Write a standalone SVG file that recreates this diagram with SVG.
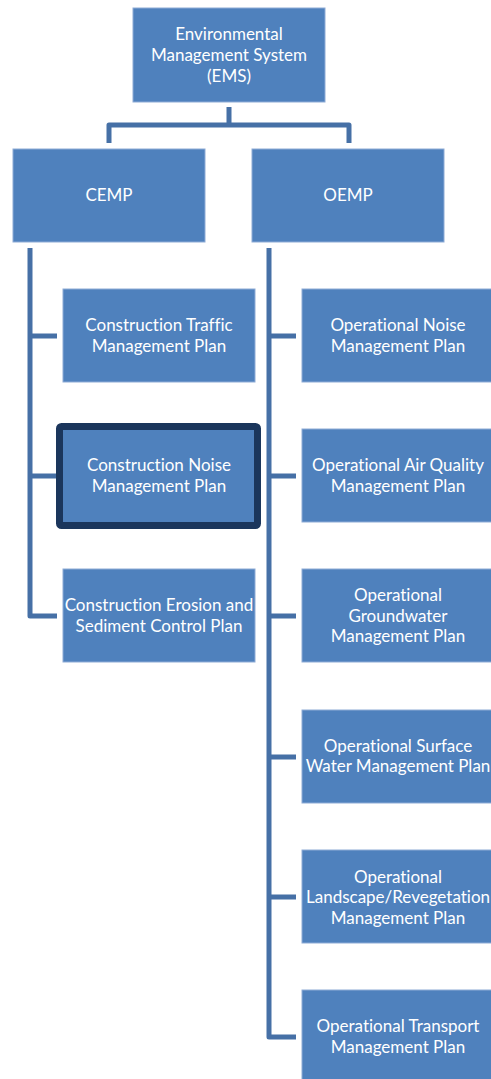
<svg xmlns="http://www.w3.org/2000/svg" width="491" height="1079" viewBox="0 0 491 1079">
<style>
.box{fill:#4F81BD;stroke:#8eabd6;stroke-width:1}
.hl{fill:#4F81BD;stroke:#1b365c;stroke-width:7}
.t{font-family:Lato,"Open Sans",sans-serif;font-size:17px;fill:#ffffff;text-anchor:middle;font-variant-ligatures:none;font-feature-settings:"liga" 0,"dlig" 0}
.c{fill:none;stroke:#4670a6;stroke-width:5;stroke-linejoin:round}
</style>
<rect width="491" height="1079" fill="#ffffff"/>
<g id="connectors">
<path class="c" d="M229 107 V125 M109 143 V125 H349 V143"/>
<path class="c" d="M30 248 V616 H57 M30 336 H57 M30 476 H57"/>
<path class="c" d="M269 248 V1037 H296 M269 336 H296 M269 476 H296 M269 616 H296 M269 757 H296 M269 897 H296"/>
</g>
<g id="ems"><rect class="box" x="133" y="8" width="192" height="94"/>
<text class="t" x="229" y="40">Environmental</text><text class="t" x="229" y="61">Management System</text><text class="t" x="229" y="82">(EMS)</text></g>
<g id="cemp"><rect class="box" x="13" y="149" width="192" height="93"/><text class="t" x="109" y="201">CEMP</text></g>
<g id="oemp"><rect class="box" x="252" y="149" width="192" height="93"/><text class="t" x="348" y="201">OEMP</text></g>
<g id="c1"><rect class="box" x="63" y="289" width="192" height="93"/><text class="t" x="159" y="331">Construction Traffic</text><text class="t" x="159" y="352">Management Plan</text></g>
<g id="c2"><rect class="hl" x="59.500" y="426.500" width="198" height="99" rx="2"/><text class="t" x="159" y="471">Construction Noise</text><text class="t" x="159" y="492">Management Plan</text></g>
<g id="c3"><rect class="box" x="63" y="569" width="192" height="93"/><text class="t" x="159" y="611">Construction Erosion and</text><text class="t" x="159" y="632">Sediment Control Plan</text></g>
<g id="o1"><rect class="box" x="302" y="289" width="192" height="93"/><text class="t" x="398" y="331">Operational Noise</text><text class="t" x="398" y="352">Management Plan</text></g>
<g id="o2"><rect class="box" x="302" y="429" width="192" height="93"/><text class="t" x="398" y="471">Operational Air Quality</text><text class="t" x="398" y="492">Management Plan</text></g>
<g id="o3"><rect class="box" x="302" y="569" width="192" height="93"/><text class="t" x="398" y="601">Operational</text><text class="t" x="398" y="622">Groundwater</text><text class="t" x="398" y="642">Management Plan</text></g>
<g id="o4"><rect class="box" x="302" y="710" width="192" height="93"/><text class="t" x="398" y="752">Operational Surface</text><text class="t" x="398" y="772">Water Management Plan</text></g>
<g id="o5"><rect class="box" x="302" y="850" width="192" height="93"/><text class="t" x="398" y="883">Operational</text><text class="t" x="398" y="903">Landscape/Revegetation</text><text class="t" x="398" y="924">Management Plan</text></g>
<g id="o6"><rect class="box" x="302" y="990" width="192" height="93"/><text class="t" x="398" y="1032">Operational Transport</text><text class="t" x="398" y="1053">Management Plan</text></g>
</svg>
